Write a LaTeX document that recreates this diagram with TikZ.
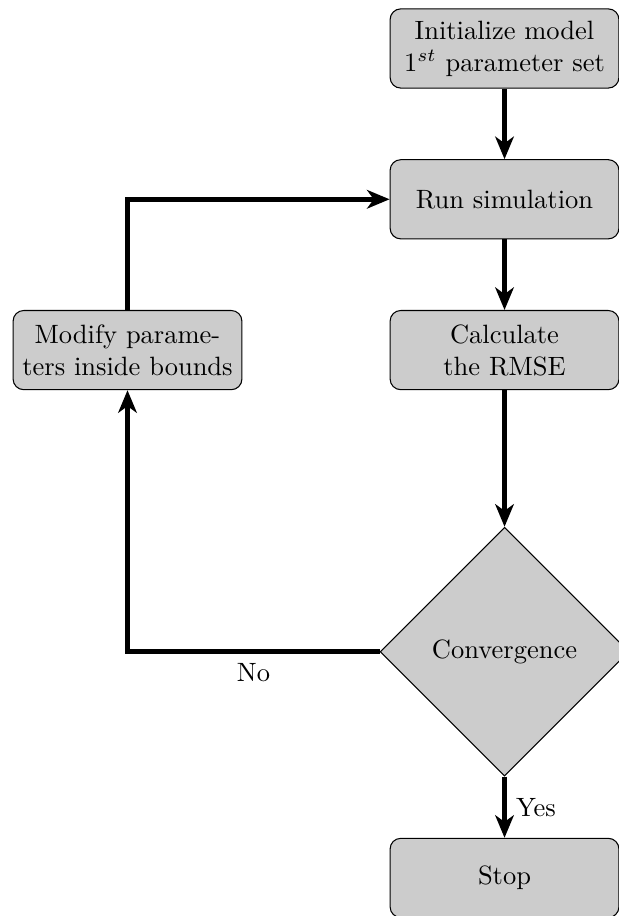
\documentclass[tikz,border=0pt]{standalone}
\usepackage{tikz}
\usetikzlibrary{arrows.meta, positioning, shapes.geometric}

\begin{document}
\begin{tikzpicture}[
    node distance=2cm,
    on grid,
    block/.style={
        draw=black,
        fill=black!20,
        rectangle,
        rounded corners=4pt,
        text width=2.8cm,
        minimum height=1.05cm,
        align=center,
        line width=0.4pt
    },
    decision/.style={
        draw=black,
        fill=black!20,
        diamond,
        aspect=1,
        minimum width=3.3cm,
        minimum height=3.3cm,
        inner sep=0pt,
        align=center,
        line width=0.4pt
    },
    arrow/.style={
        -{Stealth[length=8.5pt, width=7pt, inset=2.5pt]},
        line width=2pt,
        draw=black
    }
]

\useasboundingbox (-6.691,0.643) rectangle (1.505,-11.505);

\node[block] (init) {
    Initialize model\\
    $1^{st}$ parameter set
};

\node[block, below=of init] (run) {Run simulation};

\node[block, below=of run] (rmse) {
    Calculate\\
    the RMSE
};

\node[block, left=5cm of rmse] (modify) {Modify parameters inside bounds};

\node[decision, below=4cm of rmse] (conv) {Convergence};

\node[block, below=3cm of conv] (stop) {Stop};

\draw[arrow] (init) -- (run);
\draw[arrow] (run) -- (rmse);
\draw[arrow] (rmse) -- (conv);
\draw[arrow] (conv) -- node[right] {Yes} (stop);
\draw[arrow] (conv) -| node[pos=0.25, below] {No} (modify);
\draw[arrow] (modify) |- (run);

\end{tikzpicture}
\end{document}
